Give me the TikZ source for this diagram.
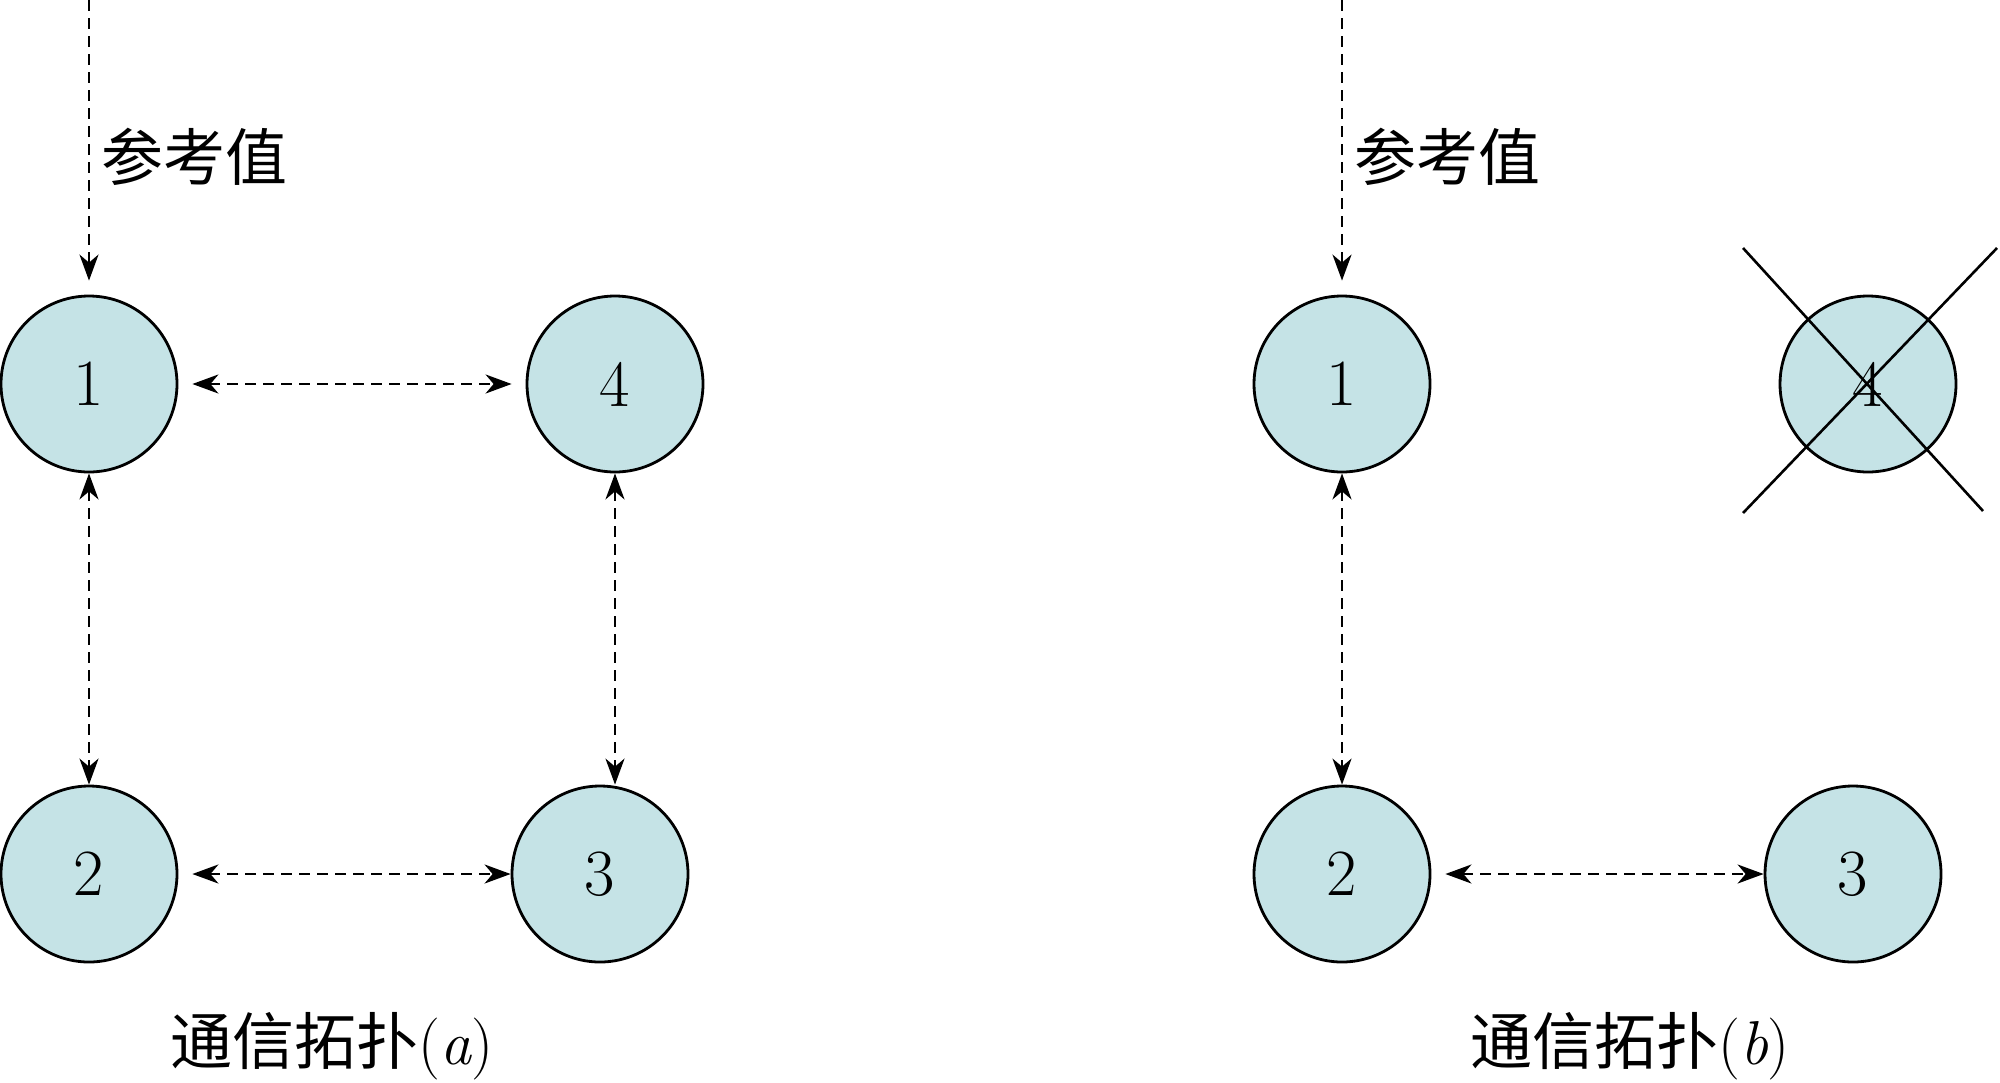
\documentclass[tikz,border=0pt]{standalone}
\usepackage{fontspec}
\newfontfamily\cjk{Noto Sans CJK SC}
\usetikzlibrary{arrows.meta}
\definecolor{agentfill}{RGB}{197,227,230}

\begin{document}
\begin{tikzpicture}[x=0.5pt,y=-0.5pt,
  agent/.style={circle, draw, line width=1.4pt, fill=agentfill, minimum size=88pt, inner sep=0pt, font=\fontsize{33}{38}\selectfont},
  link/.style={line width=1.3pt, dash pattern=on 5.5pt off 3.5pt, {Stealth[length=13pt,width=9.5pt,inset=4pt]}-{Stealth[length=13pt,width=9.5pt,inset=4pt]}},
  ref/.style={line width=1.3pt, dash pattern=on 5.5pt off 3.5pt, -{Stealth[length=13pt,width=9.5pt,inset=4pt]}},
  txt/.style={font=\cjk\fontsize{31}{36}\selectfont, inner sep=0pt}]
\useasboundingbox (0,0) rectangle (2000,1082);

% topology (a)
\node[agent] (a1) at (89,384) {1};
\node[agent] (a4) at (615,384) {4};
\node[agent] (a2) at (89,874) {2};
\node[agent] (a3) at (600,874) {3};
\coordinate (ra) at (89,0);
\draw[ref, shorten >=7pt] (ra) -- (a1);
\node[txt, anchor=west] (la) at (101,157) {参考值};
\draw[link, shorten <=7pt, shorten >=7pt] (a1) -- (a4);
\draw[link] (a1) -- (a2);
\draw[link] (a4.south) -- (a4.south |- a3.north);
\draw[link, shorten <=7pt] (a2) -- (a3);
\node[txt] (ca) at (332,1046) {通信拓扑{\normalfont(\textit{a})}};

% topology (b)
\node[agent] (b1) at (1342,384) {1};
\node[agent] (b4) at (1868,384) {4};
\node[agent] (b2) at (1342,874) {2};
\node[agent] (b3) at (1853,874) {3};
\coordinate (rb) at (1342,0);
\draw[ref, shorten >=7pt] (rb) -- (b1);
\node[txt, anchor=west] (lb) at (1354,157) {参考值};
\draw[link] (b1) -- (b2);
\draw[link, shorten <=7pt] (b2) -- (b3);
\node[txt] (cb) at (1630,1046) {通信拓扑{\normalfont(\textit{b})}};
% failed agent
\draw[line width=1.3pt] (1743,248) -- (1983,511);
\draw[line width=1.3pt] (1997,248) -- (1743,513);
\end{tikzpicture}
\end{document}
